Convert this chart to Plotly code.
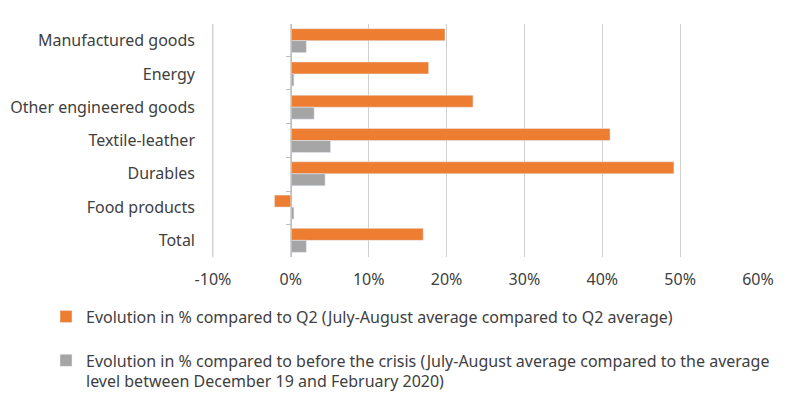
import plotly.graph_objects as go

categories = ["Manufactured goods", "Energy", "Other engineered goods", "Textile-leather",
              "Durables", "Food products", "Total"]
vs_q2 = [19.8, 17.7, 23.4, 41.0, 49.2, -2.1, 17.0]
vs_precrisis = [2.0, 0.4, 3.0, 5.1, 4.4, 0.4, 2.0]
series_names = [
    "Evolution in % compared to Q2 (July-August average compared to Q2 average)",
    "Evolution in % compared to before the crisis (July-August average compared to the average<br>level between December 19 and February 2020)",
]
x_ticks = [-10, 0, 10, 20, 30, 40, 50, 60]
x_range = [-10.25, 60]

FONT = "Noto Sans"
TXT = "#404040"
FS = 16
GRID = "#D0D0D0"

fig = go.Figure()
fig.add_trace(go.Bar(y=categories, x=vs_q2, orientation="h", name=series_names[0],
                     marker=dict(color="#ED7D31"), legendgroup="a"))
fig.add_trace(go.Bar(y=categories, x=vs_precrisis, orientation="h", name=series_names[1],
                     marker=dict(color="#A5A5A5"), legendgroup="b"))
# invisible trace carrying the category axis drawn along the 0% line
fig.add_trace(go.Scatter(y=categories, x=[0] * len(categories), yaxis="y2",
                         showlegend=False, hoverinfo="skip", mode="markers",
                         marker=dict(opacity=0)))

zero_pos = (0 - x_range[0]) / (x_range[1] - x_range[0])

fig.update_layout(
    width=800, height=405,
    margin=dict(l=203, r=50, t=16, b=156, autoexpand=False),
    paper_bgcolor="white", plot_bgcolor="white",
    font=dict(family=FONT, size=FS, color=TXT),
    barmode="group", bargap=0.28, bargroupgap=0.0,
    xaxis=dict(range=x_range, tickvals=x_ticks,
               ticktext=[f"{v}%" for v in x_ticks],
               showgrid=True, gridcolor=GRID, gridwidth=1,
               zeroline=False, showline=False, ticks="", automargin=False,
               ticklabelstandoff=11, tickfont=dict(size=FS, color=TXT)),
    yaxis=dict(autorange="reversed", type="category", categoryorder="array",
               categoryarray=categories, showgrid=False, showline=False,
               ticks="", ticklabelstandoff=15, automargin=False,
               tickfont=dict(size=FS, color=TXT)),
    yaxis2=dict(overlaying="y", type="category", categoryorder="array",
                categoryarray=categories, autorange="reversed", anchor="free",
                position=zero_pos, side="left", showline=True, linecolor="#BFBFBF",
                linewidth=1, ticks="outside", ticklen=5, tickcolor="#BFBFBF",
                tickson="boundaries", showticklabels=False, showgrid=False,
                automargin=False),
    legend=dict(xref="container", yref="container", x=0.0475, y=0.28,
                xanchor="left", yanchor="top", orientation="v", valign="top",
                tracegroupgap=20, font=dict(size=FS, color=TXT),
                bgcolor="rgba(0,0,0,0)"),
    showlegend=True,
)
# leftmost gridline (at the first tick) drawn explicitly, across the plot height
fig.add_shape(type="line", xref="x", yref="paper", x0=x_ticks[0], x1=x_ticks[0],
              y0=0, y1=1, line=dict(color=GRID, width=1), layer="above")

fig.write_html("out.html")
